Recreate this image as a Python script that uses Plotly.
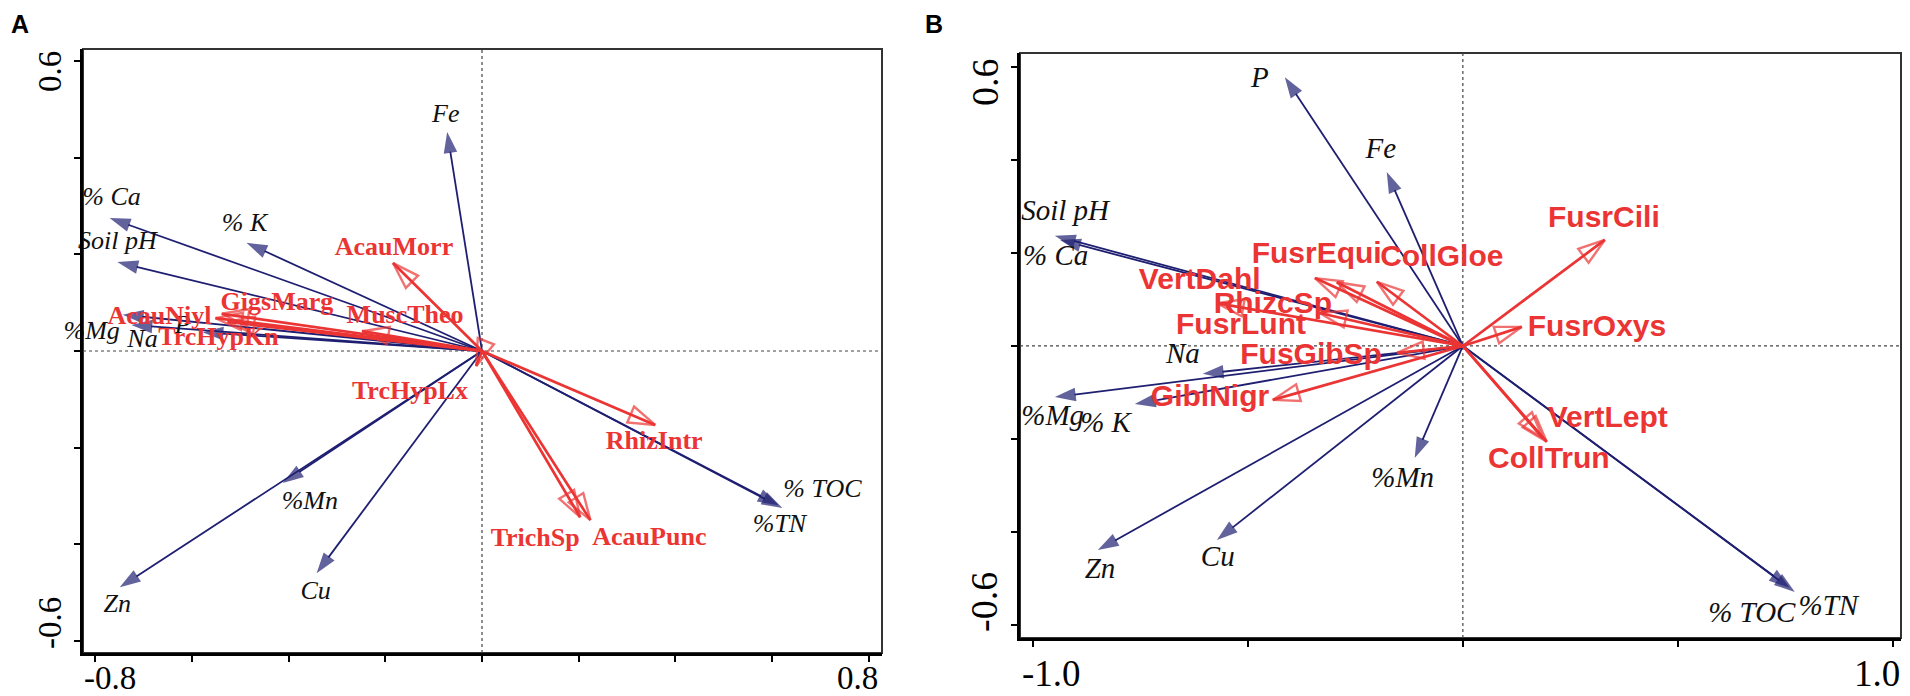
import plotly.graph_objects as go

# CCA biplots, panel A and panel B. Scores.

# ---- panel A: environmental variables (blue arrows) ----
a_env = ['% Ca', '% K', 'Soil pH', '%Mg', 'Na', 'P', 'Fe', '%Mn', 'Zn', 'Cu', '% TOC', '%TN']
a_env_x = [-0.770, -0.487, -0.754, -0.743, -0.725, -0.578, -0.072, -0.412, -0.749, -0.342, 0.621, 0.613]
a_env_y = [0.275, 0.224, 0.184, 0.075, 0.054, 0.039, 0.453, -0.273, -0.489, -0.460, -0.325, -0.319]
# label positions
a_env_lx = [-0.766, -0.491, -0.754, -0.807, -0.702, -0.619, -0.075, -0.356, -0.754, -0.344, 0.704, 0.615]
a_env_ly = [0.315, 0.261, 0.224, 0.039, 0.021, 0.050, 0.487, -0.313, -0.526, -0.499, -0.288, -0.362]

# ---- panel A: species (red arrows) ----
a_spp = ['AcauMorr', 'MuscTheo', 'GigsMarg', 'AcauNiyl', 'TrcHypKn', 'TrcHypLx', 'RhizIntr', 'TrichSp', 'AcauPunc']
a_spp_x = [-0.184, -0.248, -0.538, -0.551, -0.526, -0.012, 0.358, 0.203, 0.224]
a_spp_y = [0.182, 0.041, 0.077, 0.068, 0.060, -0.031, -0.153, -0.344, -0.350]
a_spp_lx = [-0.182, -0.159, -0.424, -0.667, -0.545, -0.149, 0.356, 0.110, 0.346]
a_spp_ly = [0.213, 0.072, 0.099, 0.070, 0.025, -0.085, -0.190, -0.391, -0.387]

# ---- panel B: environmental variables ----
b_env = ['Soil pH', '% Ca', 'Na', '%Mg', '% K', 'Zn', 'Cu', '%Mn', 'Fe', 'P', '% TOC', '%TN']
b_env_x = [-0.949, -0.937, -0.605, -0.949, -0.763, -0.849, -0.572, -0.112, -0.177, -0.414, 0.760, 0.772]
b_env_y = [0.237, 0.228, -0.060, -0.110, -0.125, -0.439, -0.417, -0.241, 0.374, 0.578, -0.520, -0.529]
b_env_lx = [-0.925, -0.947, -0.651, -0.954, -0.831, -0.844, -0.570, -0.140, -0.191, -0.472, 0.672, 0.850]
b_env_ly = [0.286, 0.189, -0.022, -0.155, -0.170, -0.484, -0.458, -0.288, 0.419, 0.572, -0.578, -0.563]

# ---- panel B: species ----
b_spp = ['FusrCili', 'FusrOxys', 'CollGloe', 'FusrEqui', 'RhizcSp', 'VertDahl', 'FusrLunt',
         'FusGibSp', 'GiblNigr', 'VertLept', 'CollTrun']
b_spp_x = [0.330, 0.137, -0.200, -0.344, -0.333, -0.572, -0.293, -0.153, -0.442, 0.195, 0.186]
b_spp_y = [0.228, 0.041, 0.138, 0.146, 0.071, 0.092, 0.137, -0.015, -0.116, -0.206, -0.198]
b_spp_lx = [0.328, 0.312, -0.049, -0.340, -0.442, -0.612, -0.516, -0.353, -0.588, 0.337, 0.200]
b_spp_ly = [0.273, 0.037, 0.189, 0.194, 0.088, 0.138, 0.041, -0.022, -0.112, -0.159, -0.247]

BLUE = '#1f1f72'
RED = '#eb3434'
SERIF = 'Liberation Serif'
SANS = 'Liberation Sans'

# the page body has an 8px margin, so the figure is drawn 8px in from the window corner
OFF = 8
W, H = 1910 - OFF, 696 - OFF


def px_x(X):
    return (X - OFF) / W


def px_y(Y):
    return 1 - (Y - OFF) / H


def arrows(xs, ys, color, symbol, size, width, xa, ya):
    # one trace per group, segments from origin separated by None
    px, py, sz = [], [], []
    for x, y in zip(xs, ys):
        px += [0, x, None]
        py += [0, y, None]
        sz += [0, size, 0]
    return go.Scatter(x=px, y=py, mode='lines+markers', xaxis=xa, yaxis=ya,
                      line=dict(color=color, width=width),
                      marker=dict(symbol=symbol, size=sz, angleref='previous', color=color,
                                  line=dict(color=color, width=2.4 if 'open' in symbol else 0)),
                      hoverinfo='skip', showlegend=False, cliponaxis=False)


def labels(xs, ys, names, color, family, size, style, weight, xa, ya):
    return go.Scatter(x=xs, y=ys, text=names, mode='text', xaxis=xa, yaxis=ya,
                      textposition='middle center',
                      textfont=dict(color=color, family=family, size=size, style=style, weight=weight),
                      hoverinfo='skip', showlegend=False, cliponaxis=False)


fig = go.Figure()
# panel A
fig.add_trace(arrows(a_env_x, a_env_y, BLUE, 'arrow', 22, 1.8, 'x', 'y'))
fig.add_trace(arrows(a_spp_x, a_spp_y, RED, 'arrow-open', 28, 2.7, 'x', 'y'))
fig.add_trace(labels(a_env_lx, a_env_ly, a_env, '#111111', SERIF, 26, 'italic', 'normal', 'x', 'y'))
fig.add_trace(labels(a_spp_lx, a_spp_ly, a_spp, RED, SERIF, 26, 'normal', 'bold', 'x', 'y'))
# panel B
fig.add_trace(arrows(b_env_x, b_env_y, BLUE, 'arrow', 22, 1.8, 'x2', 'y2'))
fig.add_trace(arrows(b_spp_x, b_spp_y, RED, 'arrow-open', 28, 2.7, 'x2', 'y2'))
fig.add_trace(labels(b_env_lx, b_env_ly, b_env, '#111111', SERIF, 29, 'italic', 'normal', 'x2', 'y2'))
fig.add_trace(labels(b_spp_lx, b_spp_ly, b_spp, RED, SANS, 30, 'normal', 'bold', 'x2', 'y2'))

axis_style = dict(showline=True, linewidth=3, linecolor='black', ticks='outside', ticklen=6,
                  tickwidth=2, tickcolor='black', showticklabels=False, showgrid=False,
                  zeroline=False, fixedrange=True)

fig.update_layout(
    width=W, height=H,
    margin=dict(l=0, r=0, t=0, b=0),
    paper_bgcolor='white', plot_bgcolor='white',
    xaxis=dict(domain=[px_x(83), px_x(882)], range=[-0.825, 0.827],
               tickvals=[-0.8, -0.6, -0.4, -0.2, 0, 0.2, 0.4, 0.6, 0.8], anchor='y', **axis_style),
    yaxis=dict(domain=[px_y(653), px_y(49)], range=[-0.625, 0.625],
               tickvals=[-0.6, -0.4, -0.2, 0, 0.2, 0.4, 0.6], anchor='x', **axis_style),
    # the window only shows up to about x=1903, so panel B ends a few px early
    xaxis2=dict(domain=[px_x(1020), px_x(1901)], range=[-1.030, 1.019],
                tickvals=[-1.0, -0.5, 0, 0.5, 1.0], anchor='y2', **axis_style),
    yaxis2=dict(domain=[px_y(638), px_y(53)], range=[-0.628, 0.630],
                tickvals=[-0.6, -0.4, -0.2, 0, 0.2, 0.4, 0.6], anchor='x2', **axis_style),
)

# frame and dotted zero lines
for xa, ya in (('x', 'y'), ('x2', 'y2')):
    fig.add_shape(type='rect', xref=xa + ' domain', yref=ya + ' domain', x0=0, x1=1, y0=0, y1=1,
                  line=dict(color='#333333', width=2), layer='below')
    fig.add_shape(type='line', xref=xa + ' domain', yref=ya, x0=0, x1=1, y0=0, y1=0,
                  line=dict(color='#444444', width=1.2, dash='dot'), layer='below')
    fig.add_shape(type='line', xref=xa, yref=ya + ' domain', x0=0, x1=0, y0=0, y1=1,
                  line=dict(color='#444444', width=1.2, dash='dot'), layer='below')

# end tick labels (hyphen minus like the original), placed by window pixel centre
tick_labels = [
    ('-0.8', 110, 678, 0, 33), ('0.8', 857, 678, 0, 33),
    ('0.6', 50, 72, -90, 33), ('-0.6', 50, 623, -90, 33),
    ('-1.0', 1051, 673, 0, 37), ('1.0', 1877, 673, 0, 37),
    ('0.6', 985, 82, -90, 38), ('-0.6', 984, 602, -90, 38),
]
for txt, X, Y, ang, fs in tick_labels:
    fig.add_annotation(text=txt, x=px_x(X), y=px_y(Y), xref='paper', yref='paper',
                       xanchor='center', yanchor='middle', showarrow=False, textangle=ang,
                       font=dict(family=SERIF, size=fs, color='black'))

for txt, X in (('A', 20), ('B', 934)):
    fig.add_annotation(text='<b>' + txt + '</b>', x=px_x(X), y=px_y(24), xref='paper', yref='paper',
                       xanchor='center', yanchor='middle', showarrow=False,
                       font=dict(family=SANS, size=25, color='black'))

fig.write_html("out.html")
